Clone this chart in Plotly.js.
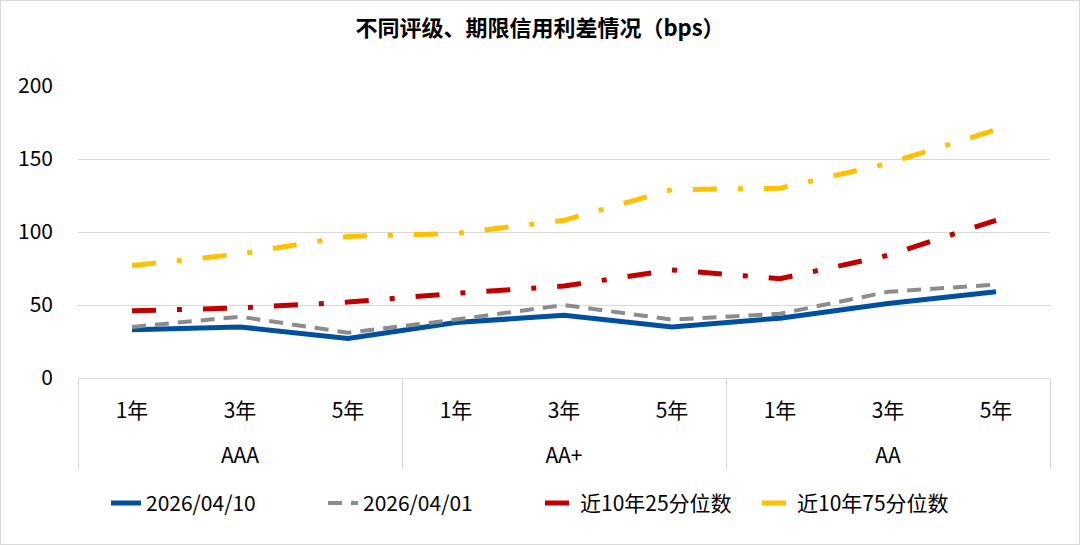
<!DOCTYPE html>
<html>
<head>
<meta charset="utf-8">
<script src="https://cdn.plot.ly/plotly-3.0.1.min.js"></script>
<style>
  html, body { margin: 0; padding: 0; background: #fff; }
  #chart { width: 1080px; height: 545px; box-sizing: border-box; border: 1px solid #d9d9d9; }
</style>
</head>
<body>
<div id="chart"></div>
<script>
var ratings = ["AAA", "AAA", "AAA", "AA+", "AA+", "AA+", "AA", "AA", "AA"];
var terms = ["1年", "3年", "5年", "1年", "3年", "5年", "1年", "3年", "5年"];

var spread0410 = [33, 35, 27, 38, 43, 35, 41, 51, 59];
var spread0401 = [35, 42, 31, 40, 50, 40, 44, 59, 64];
var pct25 = [46, 48, 52, 58, 63, 74, 68, 84, 108];
var pct75 = [77, 85, 97, 99, 108, 129, 130, 147, 170];

var font = "'Noto Sans CJK SC', 'Noto Sans', sans-serif";
// extra blank line under the term labels pushes the rating row down
var x = [ratings, terms.map(function (t) { return t + "<br>&nbsp;"; })];

var data = [
    {
        x: x, y: spread0410, name: "2026/04/10", type: "scatter", mode: "lines",
        line: { color: "#0050a0", width: 5 },
    },
    {
        x: x, y: spread0401, name: "2026/04/01", type: "scatter", mode: "lines",
        line: { color: "#8c8c8c", width: 4, dash: "14px,9px" },
    },
    {
        x: x, y: pct25, name: "近10年25分位数", type: "scatter", mode: "lines",
        line: { color: "#c00000", width: 5, dash: "24px,21px,5px,21px" },
    },
    {
        x: x, y: pct75, name: "近10年75分位数", type: "scatter", mode: "lines",
        line: { color: "#ffc000", width: 5, dash: "24px,21px,5px,21px" },
    },
];

var layout = {
    width: 1078,
    height: 543,
    margin: { l: 77, r: 29, t: 85, b: 166 },
    paper_bgcolor: "#fff",
    plot_bgcolor: "#fff",
    font: { family: font, size: 21, color: "#000" },
    title: {
        text: "<b>不同评级、期限信用利差情况（bps）</b>",
        font: { family: font, size: 22, color: "#000" },
        x: 0.5, xanchor: "center", y: 0.95, yanchor: "middle",
    },
    xaxis: {
        type: "multicategory",
        range: [-0.5, 8.5],
        showline: true,
        linecolor: "#d9d9d9",
        linewidth: 1,
        showgrid: false,
        showdividers: true,
        dividercolor: "#d9d9d9",
        dividerwidth: 1,
        ticks: "",
        ticklabelstandoff: 14,
        tickfont: { family: font, size: 21, color: "#000" },
    },
    yaxis: {
        range: [0, 200],
        dtick: 50,
        showgrid: true,
        gridcolor: "#d9d9d9",
        gridwidth: 1,
        zeroline: false,
        showline: false,
        ticks: "",
        ticklabelstandoff: 24,
        tickfont: { family: font, size: 21, color: "#000" },
    },
    legend: {
        orientation: "h",
        xref: "container", yref: "container",
        x: 0.5, xanchor: "center",
        y: 0.075, yanchor: "middle",
        entrywidth: 172,
        font: { family: font, size: 21, color: "#000" },
    },
    showlegend: true,
};

Plotly.newPlot("chart", data, layout, { displayModeBar: false, staticPlot: true });
</script>
</body>
</html>
